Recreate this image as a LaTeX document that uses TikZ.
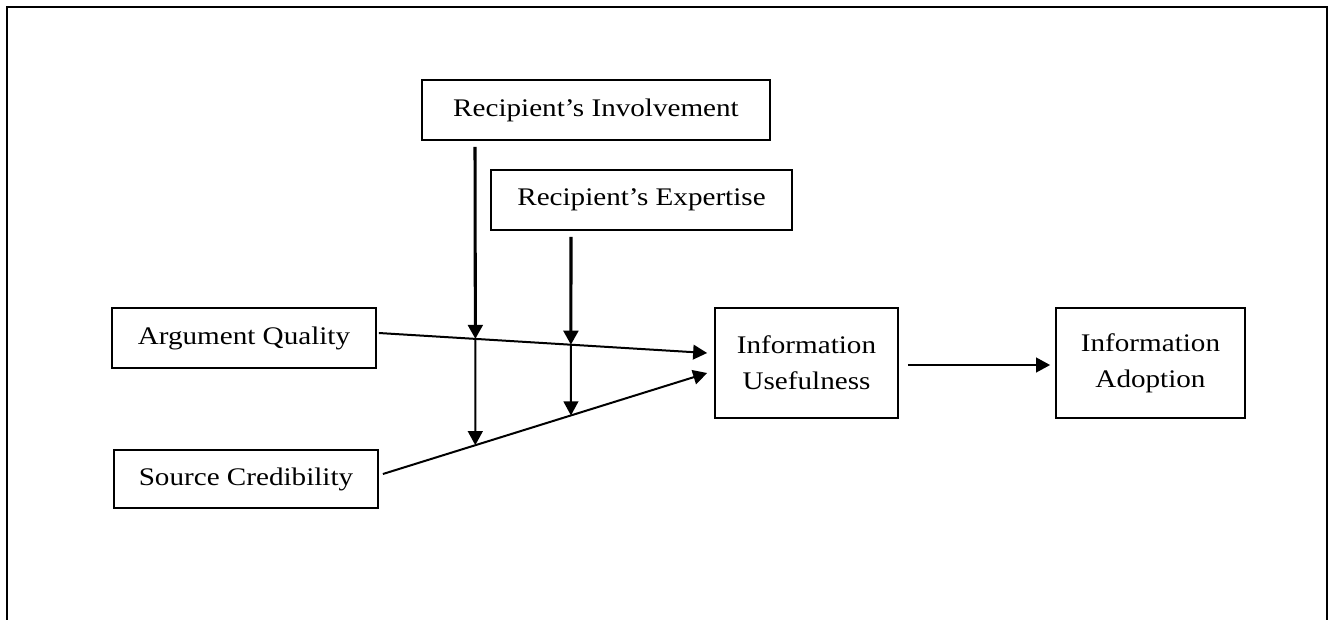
\documentclass[tikz,border=0pt]{standalone}
\usepackage{fontspec}
\setmainfont{Liberation Serif}[FakeStretch=1.15]
\usetikzlibrary{positioning,arrows.meta,calc}

\begin{document}
\begin{tikzpicture}[x=0.75pt, y=-0.75pt,
        box/.style = {draw, line width=1.3pt, inner sep=0pt, align=center,
                      font=\fontsize{19}{27}\selectfont},
        arr/.style = {line width=1.5pt, -{Triangle[length=10.5pt, width=11pt]}},
        heavy/.style = {arr, line width=2.3pt}]
                \useasboundingbox (0,0) rectangle (1334,619);
                \draw[line width=2pt] (7,640) -- (7,7) -- (1327,7) -- (1327,640);
                % boxes
                \node[box, minimum width=261pt, minimum height=45pt] (inv) at (596,110) {Recipient’s Involvement};
                \node[box, minimum width=225.75pt, minimum height=45pt] (exp) at (641.5,200) {Recipient’s Expertise};
                \node[box, minimum width=198pt, minimum height=45pt] (aq) at (244,338) {Argument Quality};
                \node[box, minimum width=198pt, minimum height=43.5pt] (sc) [below of = aq, node distance=105.75pt, xshift=1.5pt] {Source Credibility};
                \node[box, minimum width=137.25pt, minimum height=82.5pt] (use) at (806.5,363) {Information\\Usefulness};
                \node[box, minimum width=141.75pt, minimum height=82.5pt] (adopt) [right of = use, node distance=258pt] {Information\\Adoption};
                % end points of the arrows
                \coordinate (aqout) at ([shift={(2,-5)}]aq.east);
                \coordinate (scout) at ([shift={(4,-5)}]sc.east);
                \coordinate (usein1) at ([shift={(-7,-10)}]use.west);
                \coordinate (usein2) at ([shift={(-7,10)}]use.west);
                \coordinate (invout) at ([shift={(-121,6)}]inv.south);
                \coordinate (expout) at ([shift={(-70.5,6)}]exp.south);
                \coordinate (aqx1) at ($(aqout)!0.294!(usein1)$);
                \coordinate (aqx2) at ($(aqout)!0.585!(usein1)$);
                \coordinate (scx1) at ($(scout)!0.285!(usein2)$);
                \coordinate (scx2) at ($(scout)!0.580!(usein2)$);
                % arrows
                \draw[arr] (aqout) -- (usein1);
                \draw[arr] (scout) -- (usein2);
                \draw[heavy] (invout) -- (aqx1);
                \draw[arr] (aqx1) -- (scx1);
                \draw[heavy] (expout) -- (aqx2);
                \draw[arr] (aqx2) -- (scx2);
                \draw[arr] ([shift={(9,2)}]use.east) -- ([shift={(-5,2)}]adopt.west);
            \end{tikzpicture}
\end{document}
